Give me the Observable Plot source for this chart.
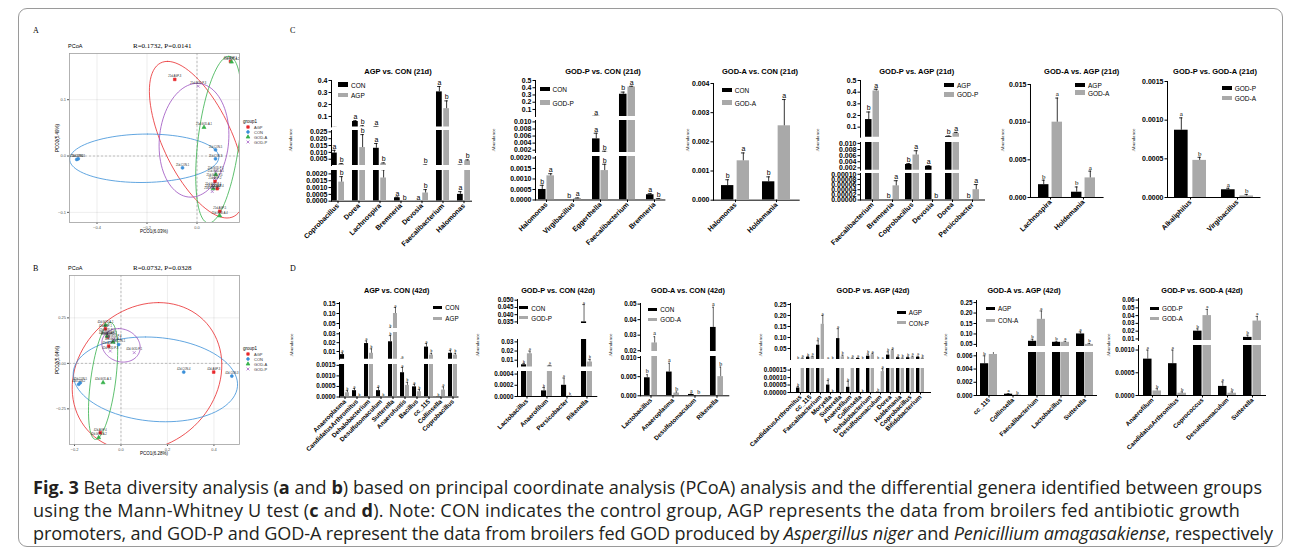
<!DOCTYPE html>
<html><head><meta charset="utf-8">
<script src="https://cdn.jsdelivr.net/npm/d3@7"></script>
<script src="https://cdn.jsdelivr.net/npm/@observablehq/plot@0.6"></script>
<style>
body{margin:0;background:#fff;}
#fig{position:relative;width:1292px;height:553px;overflow:hidden;font-family:"Liberation Sans",Arial,sans-serif;color:#000;}
#fig .abs{position:absolute;white-space:nowrap;line-height:1;}
#box{position:absolute;left:18px;top:8px;width:1263px;height:537px;border:1px solid #9a9a9a;border-radius:9px;}
.cap{position:absolute;left:33px;white-space:nowrap;font-family:"Open Sans","Noto Sans",sans-serif;color:#231f20;}
</style></head><body><div id="fig"><div id="box"></div></div>
<script>
// ---------------- DATA ----------------
const groups = ["AGP","CON","GOD-A","GOD-P"];
// PCoA 21d (panel A)
const pA_group = ["AGP","AGP","AGP","AGP","AGP","CON","CON","CON","CON","CON","GOD-A","GOD-A","GOD-A","GOD-A","GOD-A","GOD-P","GOD-P","GOD-P","GOD-P","GOD-P"];
const pA_label = ["21d-AGP-3","21d-AGP-1","21d-AGP-2","21d-AGP-4","21d-AGP-5","21d-CON-4","21d-CON-2","21d-CON-1","21d-CON-5","21d-CON-3","21d-GOD-A-2","21d-GOD-A-1","21d-GOD-A-3","21d-GOD-A-4","21d-GOD-A-5","21d-GOD-P-3","21d-GOD-P-2","21d-GOD-P-1","21d-GOD-P-4","21d-GOD-P-5"];
const pA_x = [-0.089,0.134,0.072,0.081,0.091,-0.475,-0.481,-0.058,0.074,0.074,0.138,0.028,0.065,0.091,0.075,0.005,0.061,0.075,0.065,0.070];
const pA_y = [0.136,0.168,-0.045,-0.058,-0.098,-0.005,-0.006,-0.021,0.011,-0.005,0.167,0.051,-0.058,-0.106,-0.033,0.124,-0.063,-0.027,-0.055,-0.040];
const eA_cx = [0.001,-0.211,0.087,-0.012];
const eA_cy = [0.029,-0.004,0.029,0.028];
const eA_ux = [-0.119,0.013,0.040,0.013];
const eA_uy = [0.139,0.043,0.148,0.101];
const eA_vx = [0.150,0.298,0.083,0.139];
// PCoA 42d (panel B)
const pB_group = pA_group;
const pB_label = ["42d-AGP-1","42d-AGP-2","42d-AGP-5","42d-AGP-3","42d-AGP-4","42d-CON-2","42d-CON-5","42d-CON-1","42d-CON-4","42d-CON-3","42d-GOD-A-1","42d-GOD-A-3","42d-GOD-A-2","42d-GOD-A-4","42d-GOD-A-5","42d-GOD-P-2","42d-GOD-P-3","42d-GOD-P-1","42d-GOD-P-4","42d-GOD-P-5"];
const pB_x = [-0.067,-0.057,-0.053,0.399,-0.089,-0.182,-0.175,-0.010,0.270,0.477,-0.067,-0.077,-0.096,-0.034,-0.060,-0.053,-0.046,0.057,-0.032,-0.060];
const pB_y = [0.190,0.145,0.095,-0.048,-0.381,-0.115,-0.106,0.104,-0.048,-0.070,0.211,-0.106,-0.408,0.117,0.150,0.147,0.068,0.059,0.132,0.165];
const eB_cx = [0.112,0.148,-0.077,0.000];
const eB_cy = [-0.073,-0.088,-0.097,0.099];
const eB_ux = [0.050,-0.043,0.032,-0.010];
const eB_uy = [0.407,0.233,0.321,0.092];
const eB_vx = [0.318,0.351,0.054,0.082];

// C1 AGP vs. CON (21d)
const c1Cats = ["Coprobacillus","Dorea","Lachnospira","Bremneria","Devosia","Faecalibacterium","Halomonas"];
const c1Con = [0.0095,0.058,0.013,0.00025,0.000005,0.305,0.0005];
const c1ConErr = [0.002,0.007,0.0035,0.00005,0,0.045,0.0002];
const c1ConLet = ["a","a","a","a","a","a","a"];
const c1Agp = [0.0014,0.0135,0.0017,0.000005,0.0006,0.165,0.0038];
const c1AgpErr = [0.0004,0.0095,0.0006,0,0.00025,0.065,0.0007];
const c1AgpLet = ["b","b","b","b","b","b","b"];
// C2 GOD-P vs. CON (21d)
const c2Cats = ["Halomonas","Virgibacillus","Eggerthella","Faecalibacterium","Bremneria"];
const c2Con = [0.0005,0.000005,0.0052,0.31,0.00025];
const c2ConErr = [0.0002,0,0.0016,0.03,0.00005];
const c2ConLet = ["b","b","a","b","a"];
const c2GodP = [0.00115,0.00007,0.0014,0.41,0.00004];
const c2GodPErr = [0.0001,0.00003,0.0003,0.01,0.00003];
const c2GodPLet = ["a","a","b","a","b"];
// C3 GOD-A vs. CON (21d)
const c3Cats = ["Halomonas","Holdemania"];
const c3Con = [0.0005,0.00063];
const c3ConErr = [0.0002,0.00017];
const c3ConLet = ["b","b"];
const c3GodA = [0.00135,0.00255];
const c3GodAErr = [0.00027,0.0009];
const c3GodALet = ["a","a"];
// C4 GOD-P vs. AGP (21d)
const c4Cats = ["Faecalibacterium","Bremneria","Coprobacillus","Devosia","Dorea","Persicobacter"];
const c4Agp = [0.165,0.0000005,0.0031,0.0025,0.02,0.0000005];
const c4AgpErr = [0.065,0,0.0003,0.0002,0.004,0];
const c4AgpLet = ["b","b","b","a","b","b"];
const c4GodP = [0.41,0.000055,0.0062,0.0000005,0.045,0.00004];
const c4GodPErr = [0.015,0.00002,0.0014,0,0.01,0.00002];
const c4GodPLet = ["a","a","a","b","a","a"];
// C5 GOD-A vs. AGP (21d)
const c5Cats = ["Lachnospira","Holdemania"];
const c5Agp = [0.0017,0.0007];
const c5AgpErr = [0.0006,0.0007];
const c5AgpLet = ["b","b"];
const c5GodA = [0.010,0.0026];
const c5GodAErr = [0.0032,0.0009];
const c5GodALet = ["a","a"];
// C6 GOD-P vs. GOD-A (21d)
const c6Cats = ["Alkaliphilus","Virgibacillus"];
const c6GodP = [0.00087,0.0001];
const c6GodPErr = [0.00016,0.00002];
const c6GodPLet = ["a","a"];
const c6GodA = [0.00048,0.00002];
const c6GodAErr = [0.00004,0.00002];
const c6GodALet = ["b","b"];
// D1 AGP vs. CON (42d)
const d1Cats = ["Anaeroplasma","CandidatusArthromitus","Dehalobacterium","Desulfotomaculum","Sutterella","Anaerofustis","Bacillus","cc_115","Collinsella","Coprobacillus"];
const d1Con = [0.0065,0.0003,0.019,0.0003,0.021,0.00115,0.00048,0.015,0.00002,0.008];
const d1ConErr = [0.002,0.0001,0.003,0.00015,0.007,0.00025,0.00012,0.004,0,0.003];
const d1ConLet = ["a","a","a","a","b","a","a","a","b","a"];
const d1Agp = [0.0002,0.00003,0.008,0.00003,0.10,0.00055,0.00025,0.006,0.00033,0.006];
const d1AgpErr = [0.0001,0,0.005,0,0.03,0.00015,0.0001,0.002,0.00015,0.002];
const d1AgpLet = ["b","b","b","b","a","b","b","b","a","b"];
// D2 GOD-P vs. CON (42d)
const d2Cats = ["Lactobacillus","Anaerofilum","Persicobacter","Rikenella"];
const d2Con = [0.005,0.0001,0.0002,0.035];
const d2ConErr = [0.0015,0.00006,0.00013,0.012];
const d2ConLet = ["b","b","a","a"];
const d2GodP = [0.017,0.004,0.00001,0.008];
const d2GodPErr = [0.003,0.0005,0,0.003];
const d2GodPLet = ["a","a","b","b"];
// D3 GOD-A vs. CON (42d)
const d3Cats = ["Lactobacillus","Anaeroplasma","Desulfotomaculum","Rikenella"];
const d3Con = [0.0047,0.0062,0.00035,0.035];
const d3ConErr = [0.0008,0.0023,0.0001,0.013];
const d3ConLet = ["b","a","a","a"];
const d3GodA = [0.025,0.0007,0.00001,0.005];
const d3GodAErr = [0.004,0.0003,0,0.0025];
const d3GodALet = ["a","b","b","b"];
// D4 GOD-P vs. AGP (42d)
const d4Cats = ["CandidatusArthromitus","cc_115","Faecalibacterium","Moryella","Sutterella","Anaerofilum","Collinsella","Dehalobacterium","Desulfotomaculum","Dorea","Holdemania","Coprobacillus","Bifidobacterium"];
const d4Agp = [0.00003,0.01,0.065,0.00005,0.095,0.000035,0.005,0.015,0.000003,0.02,0.008,0.008,0.01];
const d4AgpErr = [0.00001,0.004,0.02,0.00003,0.045,0.00004,0.002,0.01,0,0.015,0.004,0.004,0.005];
const d4AgpLet = ["b","b","b","a","a","b","a","b","b","b","a","b","a"];
const d4ConP = [0.005,0.012,0.16,0.000001,0.012,0.005,0.000001,0.022,0.00014,0.04,0.005,0.01,0.005];
const d4ConPErr = [0.002,0.003,0.04,0,0.008,0.002,0,0.006,0.00002,0.005,0.002,0.005,0.002];
const d4ConPLet = ["a","a","a","b","b","a","b","a","a","a","b","a","b"];
// D5 GOD-A vs. AGP (42d)
const d5Cats = ["cc_115","Collinsella","Faecalibacterium","Lactobacillus","Sutterella"];
const d5Agp = [0.0048,0.0002,0.065,0.06,0.10];
const d5AgpErr = [0.0012,0.0001,0.01,0.005,0.01];
const d5AgpLet = ["b","a","b","b","a"];
const d5ConA = [0.0062,0.00005,0.17,0.06,0.05];
const d5ConAErr = [0.001,0.00003,0.04,0.005,0.005];
const d5ConALet = ["a","b","a","a","b"];
// D6 GOD-P vs. GOD-A (42d)
const d6Cats = ["Anaerofilum","CandidatusArthromitus","Coprococcus","Desulfotomaculum","Sutterella"];
const d6GodP = [0.0008,0.0007,0.02,0.0002,0.012];
const d6GodPErr = [0.0002,0.0003,0.003,0.0001,0.003];
const d6GodPLet = ["a","a","b","a","b"];
const d6GodA = [0.0001,0.00005,0.04,0.00005,0.033];
const d6GodAErr = [0.00005,0.00003,0.008,0.00003,0.006];
const d6GodALet = ["b","b","a","b","a"];

// ---------------- STYLE / LAYOUT ----------------
const groupColors = ["#E8282B","#3A8FD8","#35B04A","#9B4FBF"];
const groupSymbols = ["square","circle","triangle","times"];
const BLACK = "#000000", GREY = "#a9a9a9";
const fig = document.getElementById("fig");

function txt(html, x, y, st) {
  const d = document.createElement("div");
  d.className = "abs"; d.innerHTML = html;
  d.style.left = x + "px"; d.style.top = y + "px";
  Object.assign(d.style, st || {});
  fig.appendChild(d); return d;
}
function place(svg, x, y) {
  svg.style.position = "absolute"; svg.style.left = x + "px"; svg.style.top = y + "px";
  fig.appendChild(svg);
}

// panel letters
txt("A", 33, 26, {font: "8px 'Liberation Serif'"});
txt("C", 290, 26, {font: "8px 'Liberation Serif'"});
txt("B", 33, 264, {font: "8px 'Liberation Serif'"});
txt("D", 290, 264, {font: "8px 'Liberation Serif'"});

// ---------------- PCoA ----------------
function ellipseRows(cx, cy, ux, uy, vx) {
  const rows = [];
  groups.forEach((g, i) => {
    for (let k = 0; k <= 90; k++) {
      const t = k / 90 * 2 * Math.PI;
      rows.push({group: g, x: cx[i] + ux[i] * Math.cos(t) + vx[i] * Math.sin(t), y: cy[i] + uy[i] * Math.cos(t)});
    }
  });
  return rows;
}
function pcoa(cfg) {
  const pts = cfg.group.map((g, i) => ({group: g, label: cfg.label[i], x: cfg.x[i], y: cfg.y[i]}));
  const ell = ellipseRows(cfg.cx, cfg.cy, cfg.ux, cfg.uy, cfg.vx);
  const svg = Plot.plot({
    width: 191, height: 192, marginLeft: 19, marginRight: 2, marginTop: 3, marginBottom: 20,
    style: {fontSize: "4px", fontFamily: "Liberation Sans", color: "#555", background: "transparent", overflow: "visible"},
    x: {domain: cfg.xd, ticks: cfg.xt, tickFormat: cfg.xf, tickSize: 2, tickPadding: 1.5, label: null, grid: true},
    y: {domain: cfg.yd, ticks: cfg.yt, tickFormat: cfg.yf, tickSize: 2, tickPadding: 1.5, label: null, grid: true},
    color: {domain: groups, range: groupColors},
    symbol: {domain: groups, range: groupSymbols},
    marks: [
      Plot.ruleX([0], {stroke: "#888", strokeDasharray: "2,2", strokeWidth: 0.5}),
      Plot.ruleY([0], {stroke: "#888", strokeDasharray: "2,2", strokeWidth: 0.5}),
      Plot.line(ell, {x: "x", y: "y", z: "group", stroke: "group", strokeWidth: 0.8, clip: true}),
      Plot.dot(pts, {x: "x", y: "y", symbol: "group", fill: "group", stroke: "group", r: 1.5, strokeWidth: 0.6}),
      Plot.text(pts, {x: "x", y: "y", text: "label", dy: -3, fontSize: 2.6, fill: "#222"}),
      Plot.frame({stroke: "#a0a0a0", strokeWidth: 0.8})
    ]
  });
  place(svg, 50, cfg.top - 3);
  txt("PCoA", 68, cfg.top - 10, {font: "5.5px 'Liberation Sans'"});
  txt(cfg.stat, 133, cfg.top - 11, {font: "7px 'Liberation Serif'"});
  txt(cfg.xl, 154, cfg.top + 176, {font: "4.5px 'Liberation Sans'", transform: "translateX(-50%)"});
  txt(cfg.yl, 57, cfg.top + 85, {font: "4.5px 'Liberation Sans'", transform: "translate(-50%,-50%) rotate(-90deg)"});
  // legend
  txt("group1", 243, cfg.top + cfg.legTop, {font: "4.5px 'Liberation Sans'"});
  groups.forEach((g, i) => {
    const y = cfg.top + cfg.legTop + 8 + i * 5;
    const sym = d3.symbol(d3[["symbolSquare","symbolCircle","symbolTriangle","symbolTimes"][i]], 6)();
    txt(`<svg width="6" height="6" style="vertical-align:middle"><path d="${sym}" transform="translate(3,3)" fill="${i===3?'none':groupColors[i]}" stroke="${groupColors[i]}" stroke-width="0.7"/></svg><span style="margin-left:3px;vertical-align:middle">${g}</span>`, 245, y - 3, {font: "4px 'Liberation Sans'", color: "#333"});
  });
}
pcoa({group: pA_group, label: pA_label, x: pA_x, y: pA_y, cx: eA_cx, cy: eA_cy, ux: eA_ux, uy: eA_uy, vx: eA_vx,
  xd: [-0.51, 0.17], yd: [-0.118, 0.182], xt: [-0.4,-0.2,0.0], yt: [-0.1,0.0,0.1], xf: ".1f", yf: ".1f",
  top: 53, stat: "R=0.1732, P=0.0141", xl: "PCO1(6.03%)", yl: "PCO2(5.49%)", legTop: 66});
pcoa({group: pB_group, label: pB_label, x: pB_x, y: pB_y, cx: eB_cx, cy: eB_cy, ux: eB_ux, uy: eB_uy, vx: eB_vx,
  xd: [-0.2215, 0.51], yd: [-0.446, 0.483], xt: [-0.2,0.0,0.2,0.4], yt: [-0.25,0.0,0.25], xf: ".1f", yf: ".2f",
  top: 275, stat: "R=0.0732, P=0.0328", xl: "PCO1(6.28%)", yl: "PCO2(5.64%)", legTop: 71});

// ---------------- BAR PANELS ----------------
function barPanel(d, L) {
  const n = d.cats.length;
  const W = L.end - L.axisX;
  const step = W / (n - L.pI + 2 * L.pO);
  const bw = step * (1 - L.pI);
  const g = L.gap, half = bw / 2, off = bw / 4 + g / 4;
  const mk = (vals, errs, lets) => d.cats.map((c, i) => ({cat: c, v: vals[i], err: errs[i], hi: vals[i] + errs[i], let: lets[i]}));
  const rowsA = mk(d.a, d.aErr, d.aLet), rowsB = mk(d.b, d.bErr, d.bLet);
  const ml = 40, mr = 4, mt = 14;
  L.segs.forEach((s, k) => {
    const first = k === 0, last = k === L.segs.length - 1;
    const mb = last ? 90 : 1;
    const [lo, hi] = s.domain;
    const inSeg = r => r.hi >= lo && (first || r.hi <= hi);
    const marks = [];
    [[rowsA, d.colA, -1], [rowsB, d.colB, 1]].forEach(([rows, col, side]) => {
      marks.push(Plot.barY(rows, {x: "cat", y: "v", fill: col, insetLeft: side < 0 ? 0 : half + g / 2, insetRight: side < 0 ? half + g / 2 : 0, clip: true}));
      const er = rows.filter(r => r.err > 0);
      marks.push(Plot.ruleX(er, {x: "cat", y1: "v", y2: "hi", dx: side * off, stroke: "#000", strokeWidth: L.sw, clip: true}));
      marks.push(Plot.tickY(er, {x: "cat", y: "hi", dx: side * off, insetLeft: (bw - L.cap) / 2, insetRight: (bw - L.cap) / 2, stroke: "#000", strokeWidth: L.sw, clip: true}));
      marks.push(Plot.text(rows.filter(inSeg), {x: "cat", y: "hi", text: "let", dx: side * off, dy: -L.letFs * 0.55, fontSize: L.letFs, fontWeight: "normal", fontFamily: L.letFont, fill: "#000"}));
    });
    const svg = Plot.plot({
      width: W + ml + mr, height: (s.bottom - s.top) + mt + mb,
      marginLeft: ml, marginRight: mr, marginTop: mt, marginBottom: mb,
      style: {fontSize: L.fs + "px", fontFamily: "Liberation Sans", fontWeight: "bold", color: "#000", background: "transparent", overflow: "visible"},
      x: {type: "band", domain: d.cats, paddingInner: L.pI, paddingOuter: L.pO, align: 0.5, axis: last ? "bottom" : null, tickRotate: -45, tickSize: 2.5, tickPadding: 1, line: true, label: null},
      y: {domain: s.domain, ticks: s.ticks, tickFormat: s.fmt, tickSize: 2.5, tickPadding: 1.5, line: true, label: null},
      marks
    });
    place(svg, L.axisX - ml, s.top - mt);
  });
  txt(d.title, L.titleX, L.titleY, {font: `bold ${L.titleFs}px 'Liberation Sans'`, transform: "translate(-50%,-50%)"});
  [[d.nameA, d.colA], [d.nameB, d.colB]].forEach(([nm, col], i) => {
    const y = L.legY[i];
    const sw = document.createElement("div");
    sw.className = "abs";
    Object.assign(sw.style, {left: L.legX + "px", top: (y - L.swH / 2) + "px", width: L.swW + "px", height: L.swH + "px", background: col});
    fig.appendChild(sw);
    txt(nm, L.legX + L.swW + 3, y, {font: `${L.legFs}px 'Liberation Sans'`, transform: "translateY(-50%)"});
  });
  txt("Abundance", L.abX, L.abY, {font: "5px 'Liberation Serif'", transform: "translate(-50%,-50%) rotate(-90deg)"});
}

const C = (t, cats, nA, a, aE, aL, nB, b, bE, bL) => ({title: t, cats, nameA: nA, a, aErr: aE, aLet: aL, nameB: nB, b, bErr: bE, bLet: bL, colA: BLACK, colB: GREY});
const baseC = {fs: 7, letFs: 7, letFont: "Liberation Sans", titleFs: 7.5, sw: 0.8, cap: 4, gap: 1, legFs: 6.5, swW: 10, swH: 4.5, abY: 140};
const baseD = {fs: 6.3, letFs: 3.5, letFont: "Liberation Sans", titleFs: 7.3, sw: 0.6, cap: 2.5, gap: 0.8, legFs: 6.3, swW: 9, swH: 3, abY: 345};

barPanel(C("AGP vs. CON (21d)", c1Cats, "CON", c1Con, c1ConErr, c1ConLet, "AGP", c1Agp, c1AgpErr, c1AgpLet),
  {...baseC, axisX: 331, end: 471, pI: 0.36, pO: 0, titleX: 398, titleY: 70.5, legX: 338, legY: [84.6, 95], abX: 290,
   segs: [
    {domain: [0.013, 0.4], top: 80.3, bottom: 126.7, ticks: [0.1,0.2,0.3,0.4], fmt: ".1f"},
    {domain: [0.0004, 0.026], top: 130, bottom: 165, ticks: [0.005,0.01,0.015,0.02,0.025], fmt: ".3f"},
    {domain: [0, 0.00225], top: 170, bottom: 200.7, ticks: [0,0.0005,0.001,0.0015,0.002], fmt: ".4f"}]});
barPanel(C("GOD-P vs. CON (21d)", c2Cats, "CON", c2Con, c2ConErr, c2ConLet, "GOD-P", c2GodP, c2GodPErr, c2GodPLet),
  {...baseC, axisX: 535, end: 664.4, pI: 0.41, pO: 0.1, titleX: 603, titleY: 70.5, legX: 539.5, legY: [89, 102.7], abX: 493,
   segs: [
    {domain: [0.003, 0.5], top: 80, bottom: 116, ticks: [0.1,0.2,0.3,0.4,0.5], fmt: ".1f"},
    {domain: [0.00135, 0.0104], top: 120.3, bottom: 152.3, ticks: [0.002,0.004,0.006,0.008,0.01], fmt: ".3f"},
    {domain: [0, 0.00207], top: 155.5, bottom: 199, ticks: [0,0.0005,0.001,0.0015,0.002], fmt: ".4f"}]});
barPanel(C("GOD-A vs. CON (21d)", c3Cats, "CON", c3Con, c3ConErr, c3ConLet, "GOD-A", c3GodA, c3GodAErr, c3GodALet),
  {...baseC, axisX: 713.3, end: 799, pI: 0.31, pO: 0.2, gap: 3, titleX: 760, titleY: 70.5, legX: 721.7, legY: [90, 102.7], abX: 687,
   segs: [{domain: [0, 0.004], top: 83.3, bottom: 200, ticks: [0,0.001,0.002,0.003,0.004], fmt: ".3f"}]});
barPanel(C("GOD-P vs. AGP (21d)", c4Cats, "AGP", c4Agp, c4AgpErr, c4AgpLet, "GOD-P", c4GodP, c4GodPErr, c4GodPLet),
  {...baseC, axisX: 860, end: 984, pI: 0.3, pO: 0.25, titleX: 916.7, titleY: 70.5, legX: 944, legY: [85, 94.3], abX: 817,
   segs: [
    {domain: [0.014, 0.5], top: 80, bottom: 136.7, ticks: [0.1,0.2,0.3,0.4,0.5], fmt: ".1f"},
    {domain: [0.00124, 0.0103], top: 142.3, bottom: 170, ticks: [0.002,0.004,0.006,0.008,0.01], fmt: ".3f"},
    {domain: [0, 0.000103], top: 172.5, bottom: 199, ticks: [0,0.00002,0.00004,0.00006,0.00008,0.0001], fmt: ".5f"}]});
barPanel(C("GOD-A vs. AGP (21d)", c5Cats, "AGP", c5Agp, c5AgpErr, c5AgpLet, "GOD-A", c5GodA, c5GodAErr, c5GodALet),
  {...baseC, axisX: 1030, end: 1102.6, pI: 0.26, pO: 0.2, gap: 2, letFont: "Liberation Serif", titleX: 1081.7, titleY: 70.5, legX: 1075, legY: [85, 92.7], abX: 1002,
   segs: [{domain: [0, 0.015], top: 84.3, bottom: 197.3, ticks: [0,0.005,0.01,0.015], fmt: ".3f"}]});
barPanel(C("GOD-P vs. GOD-A (21d)", c6Cats, "GOD-P", c6GodP, c6GodPErr, c6GodPLet, "GOD-A", c6GodA, c6GodAErr, c6GodALet),
  {...baseC, axisX: 1167.3, end: 1259.8, pI: 0.31, pO: 0.13, gap: 4, letFont: "Liberation Serif", titleX: 1215, titleY: 70.5, legX: 1221.7, legY: [88, 98], abX: 1133,
   segs: [{domain: [0, 0.0015], top: 80.7, bottom: 196.7, ticks: [0,0.0005,0.001,0.0015], fmt: ".4f"}]});

barPanel(C("AGP vs. CON (42d)", d1Cats, "CON", d1Con, d1ConErr, d1ConLet, "AGP", d1Agp, d1AgpErr, d1AgpLet),
  {...baseD, axisX: 338.5, end: 457, pI: 0.25, pO: 0, titleX: 396.7, titleY: 290, legX: 433.3, legY: [307.3, 318.3], abX: 291,
   segs: [
    {domain: [0.025, 0.155], top: 302.3, bottom: 328.3, ticks: [0.05,0.1,0.15], fmt: ".2f"},
    {domain: [0.0013, 0.0315], top: 332, bottom: 358.7, ticks: [0.01,0.02,0.03], fmt: ".2f"},
    {domain: [0, 0.00154], top: 363.5, bottom: 396, ticks: [0,0.0005,0.001,0.0015], fmt: ".4f"}]});
barPanel(C("GOD-P vs. CON (42d)", d2Cats, "CON", d2Con, d2ConErr, d2ConLet, "GOD-P", d2GodP, d2GodPErr, d2GodPLet),
  {...baseD, axisX: 516.7, end: 596, pI: 0.47, pO: 0.15, titleX: 558, titleY: 290, legX: 519.3, legY: [307.7, 317.7], abX: 477,
   segs: [
    {domain: [0.0339, 0.0505], top: 299.3, bottom: 323.3, ticks: [0.035,0.04,0.045,0.05], fmt: ".3f"},
    {domain: [0.0027, 0.0326], top: 339.3, bottom: 366.7, ticks: [0.01,0.02,0.03], fmt: ".2f"},
    {domain: [0, 0.000446], top: 370.7, bottom: 395.7, ticks: [0,0.0002,0.0004], fmt: ".4f"}]});
barPanel(C("GOD-A vs.  CON (42d)", d3Cats, "CON", d3Con, d3ConErr, d3ConLet, "GOD-A", d3GodA, d3GodAErr, d3GodALet),
  {...baseD, axisX: 640, end: 728.3, pI: 0.39, pO: 0.13, letFont: "Liberation Serif", letFs: 6, titleX: 688, titleY: 290, legX: 648.3, legY: [309, 319.3], abX: 610,
   segs: [
    {domain: [0.0195, 0.0504], top: 302.7, bottom: 350.7, ticks: [0.02,0.03,0.04,0.05], fmt: ".2f"},
    {domain: [0, 0.01026], top: 355.7, bottom: 395, ticks: [0,0.005,0.01], fmt: ".3f"}]});
barPanel(C("GOD-P vs. AGP (42d)", d4Cats, "AGP", d4Agp, d4AgpErr, d4AgpLet, "CON-P", d4ConP, d4ConPErr, d4ConPLet),
  {...baseD, axisX: 790, end: 930, pI: 0.22, pO: 0.07, titleX: 873, titleY: 290, legX: 896.7, legY: [312.3, 322.7], abX: 760,
   segs: [
    {domain: [0, 0.2545], top: 303.3, bottom: 359.3, ticks: [0.05,0.1,0.15,0.2,0.25], fmt: ".2f"},
    {domain: [0, 0.000161], top: 367.7, bottom: 391.7, ticks: [0,0.00005,0.0001,0.00015], fmt: ".5f"}]});
barPanel(C("GOD-A vs. AGP (42d)", d5Cats, "AGP", d5Agp, d5AgpErr, d5AgpLet, "CON-A", d5ConA, d5ConAErr, d5ConALet),
  {...baseD, axisX: 976, end: 1096, pI: 0.3, pO: 0.15, letFont: "Liberation Serif", letFs: 5, titleX: 1024, titleY: 290, legX: 986, legY: [308, 320], abX: 945,
   segs: [
    {domain: [0.04, 0.26], top: 300, bottom: 346, ticks: [0.05,0.1,0.15,0.2,0.25], fmt: ".2f"},
    {domain: [0, 0.0065], top: 352, bottom: 395, ticks: [0,0.002,0.004,0.006], fmt: ".3f"}]});
barPanel(C("GOD-P vs. GOD-A (42d)", d6Cats, "GOD-P", d6GodP, d6GodPErr, d6GodPLet, "GOD-A", d6GodA, d6GodAErr, d6GodALet),
  {...baseD, axisX: 1138, end: 1265, pI: 0.3, pO: 0.1, letFont: "Liberation Serif", letFs: 5, titleX: 1202, titleY: 290, legX: 1150, legY: [308, 318], abX: 1108,
   segs: [
    {domain: [0.008, 0.062], top: 298, bottom: 340, ticks: [0.01,0.02,0.03,0.04,0.05,0.06], fmt: ".2f"},
    {domain: [0, 0.0011], top: 345, bottom: 395, ticks: [0,0.0005,0.001], fmt: ".4f"}]});

// ---------------- CAPTION ----------------
const capLines = [
  "<b>Fig. 3</b> Beta diversity analysis (<b>a</b> and <b>b</b>) based on principal coordinate analysis (PCoA) analysis and the differential genera identified between groups",
  "using the Mann-Whitney U test (<b>c</b> and <b>d</b>). Note: CON indicates the control group, AGP represents the data from broilers fed antibiotic growth",
  "promoters, and GOD-P and GOD-A represent the data from broilers fed GOD produced by <i>Aspergillus niger</i> and <i>Penicillium amagasakiense</i>, respectively"
];
const capWidths = [1229, 1207, 1240];
const capEls = capLines.map((h, i) => {
  const d = document.createElement("div");
  d.className = "cap"; d.innerHTML = h;
  d.style.top = (477 + i * 23) + "px"; d.style.fontSize = "17px"; d.style.lineHeight = "20px";
  fig.appendChild(d); return d;
});
const w0 = capEls[0].getBoundingClientRect().width;
const fsz = 17 * 1229 / w0;
capEls.forEach((e, i) => {
  e.style.fontSize = fsz + "px";
  const w = e.getBoundingClientRect().width;
  const nch = e.textContent.length;
  e.style.letterSpacing = ((capWidths[i] - w) / nch) + "px";
});
</script></body></html>
